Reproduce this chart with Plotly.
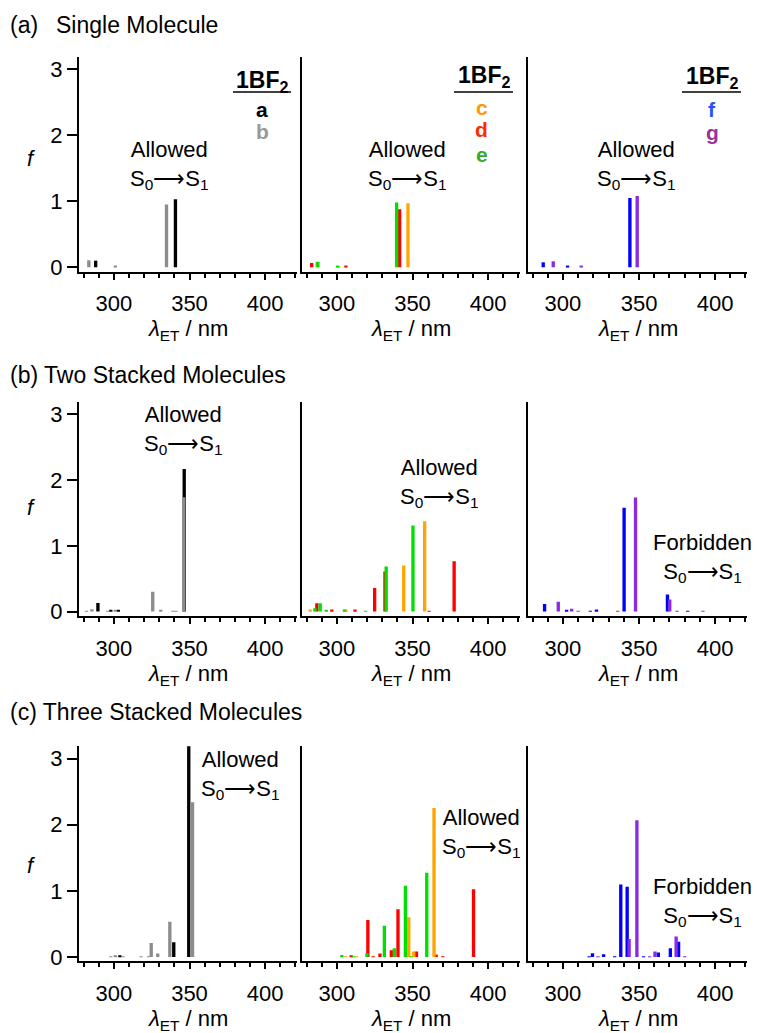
import plotly.graph_objects as go

W, H = 757, 1033

# ---------------- data (lambda_ET in nm, oscillator strength f) ----------------
# (a) single molecule
single_a_nm = [288.0, 340.7]
single_a_f = [0.10, 1.03]
single_b_nm = [283.5, 301.0, 334.8]
single_b_f = [0.105, 0.02, 0.95]
single_d_nm = [283.4, 306.0, 341.5]
single_d_f = [0.065, 0.025, 0.88]
single_c_nm = [287.0, 301.5, 347.0]
single_c_f = [0.085, 0.01, 0.97]
single_e_nm = [287.5, 300.5, 339.5]
single_e_f = [0.08, 0.015, 0.98]
single_f_nm = [287.0, 303.0, 344.0]
single_f_f = [0.075, 0.015, 1.05]
single_g_nm = [293.6, 312.0, 348.8]
single_g_f = [0.09, 0.02, 1.08]

# (b) two stacked molecules
two_a_nm = [289.5, 298.0, 303.0, 346.5]
two_a_f = [0.13, 0.015, 0.02, 2.17]
two_b_nm = [282.0, 285.5, 296.0, 301.0, 325.7, 331.0, 339.0, 341.0, 346.2]
two_b_f = [0.01, 0.035, 0.01, 0.02, 0.30, 0.02, 0.01, 0.01, 1.74]
two_d_nm = [286.8, 296.7, 312.0, 325.0, 331.8, 361.0, 377.5]
two_d_f = [0.125, 0.03, 0.03, 0.36, 0.61, 0.01, 0.765]
two_c_nm = [282.4, 306.0, 344.2, 358.0]
two_c_f = [0.03, 0.03, 0.70, 1.375]
two_e_nm = [285.5, 289.0, 293.0, 305.0, 319.0, 332.6, 350.3]
two_e_f = [0.05, 0.125, 0.02, 0.03, 0.01, 0.685, 1.31]
two_f_nm = [287.9, 302.4, 318.0, 322.0, 340.2, 368.7, 382.0]
two_f_f = [0.115, 0.02, 0.01, 0.03, 1.58, 0.26, 0.01]
two_g_nm = [296.9, 305.7, 310.0, 336.0, 347.7, 370.2, 375.0, 392.0]
two_g_f = [0.15, 0.045, 0.01, 0.01, 1.735, 0.185, 0.01, 0.01]

# (c) three stacked molecules
three_a_nm = [304.0, 339.6, 349.5]
three_a_f = [0.015, 0.22, 3.4]
three_b_nm = [298.0, 301.0, 306.0, 318.0, 323.0, 324.7, 329.0, 337.0, 352.0]
three_b_f = [0.01, 0.015, 0.01, 0.01, 0.01, 0.21, 0.05, 0.53, 2.34]
three_d_nm = [309.5, 320.5, 324.0, 328.5, 336.0, 340.4, 352.6, 365.6, 370.0, 390.3]
three_d_f = [0.025, 0.56, 0.01, 0.05, 0.10, 0.72, 0.08, 0.035, 0.01, 1.025]
three_c_nm = [306.0, 313.0, 347.5, 350.8, 364.2]
three_c_f = [0.01, 0.01, 0.60, 0.08, 2.255]
three_e_nm = [303.3, 311.0, 319.9, 331.4, 338.0, 345.3, 349.0, 359.4]
three_e_f = [0.03, 0.01, 0.055, 0.47, 0.13, 1.075, 0.01, 1.275]
three_f_nm = [317.2, 319.4, 326.7, 334.0, 338.0, 342.2, 353.0, 362.7, 370.6, 376.0]
three_f_f = [0.01, 0.055, 0.04, 0.01, 1.095, 1.06, 0.01, 0.065, 0.13, 0.23]
three_g_nm = [323.0, 343.5, 348.6, 357.0, 360.5, 374.4, 380.0]
three_g_f = [0.01, 0.27, 2.07, 0.01, 0.08, 0.31, 0.01]

x_ticks = [300, 350, 400]
y_ticks = [0, 1, 2, 3]
section_titles = ["(a)\u2002\u00a0Single Molecule", "(b) Two Stacked Molecules",
                  "(c) Three Stacked Molecules"]

COL = dict(a="#000000", b="#8c8c8c", c="#ffa500", d="#ff0000", e="#00e000",
           f="#0000ff", g="#8a2be2")

panels = [
    (0, 0, [("a", single_a_nm, single_a_f), ("b", single_b_nm, single_b_f)]),
    (0, 1, [("d", single_d_nm, single_d_f), ("c", single_c_nm, single_c_f), ("e", single_e_nm, single_e_f)]),
    (0, 2, [("f", single_f_nm, single_f_f), ("g", single_g_nm, single_g_f)]),
    (1, 0, [("a", two_a_nm, two_a_f), ("b", two_b_nm, two_b_f)]),
    (1, 1, [("d", two_d_nm, two_d_f), ("c", two_c_nm, two_c_f), ("e", two_e_nm, two_e_f)]),
    (1, 2, [("f", two_f_nm, two_f_f), ("g", two_g_nm, two_g_f)]),
    (2, 0, [("a", three_a_nm, three_a_f), ("b", three_b_nm, three_b_f)]),
    (2, 1, [("d", three_d_nm, three_d_f), ("c", three_c_nm, three_c_f), ("e", three_e_nm, three_e_f)]),
    (2, 2, [("f", three_f_nm, three_f_f), ("g", three_g_nm, three_g_f)]),
]

col_px = [(79, 297), (302, 520), (528, 747)]
row_px = [(57, 274), (405, 621), (752, 969)]

FONT = "Arial, Liberation Sans, sans-serif"
FS = 22

fig = go.Figure()
layout = {}
for idx, (r, c, series) in enumerate(panels):
    n = idx + 1
    xa = "x" if n == 1 else f"x{n}"
    ya = "y" if n == 1 else f"y{n}"
    for key, nm, fv in series:
        fig.add_trace(go.Bar(x=nm, y=fv, width=2.2, xaxis=xa, yaxis=ya,
                             marker=dict(color=COL[key], line=dict(width=0)),
                             showlegend=False, hoverinfo="x+y"))
    x0, x1 = col_px[c]
    y0, y1 = row_px[r]
    layout["xaxis" if n == 1 else f"xaxis{n}"] = dict(
        domain=[x0 / W, x1 / W], anchor=ya, range=[277, 421],
        tickvals=x_ticks, ticks="outside", ticklen=6, tickwidth=2, tickcolor="black",
        ticklabelstandoff=5,
        minor=dict(tickvals=list(range(280, 421, 10)), ticks="outside", ticklen=4,
                   tickwidth=2, tickcolor="black", showgrid=False),
        showline=True, linewidth=2, linecolor="black", showgrid=False, zeroline=False,
        tickfont=dict(family=FONT, size=FS, color="black"))
    ydict = dict(domain=[1 - y1 / H, 1 - y0 / H], anchor=xa, range=[-0.07, 3.19],
                 showline=True, linewidth=2, linecolor="black", showgrid=False,
                 zeroline=False)
    if c == 0:
        ydict.update(tickvals=y_ticks, ticks="outside", ticklen=10, tickwidth=2,
                     tickcolor="black", tickfont=dict(family=FONT, size=FS, color="black"))
    else:
        ydict.update(showticklabels=False, ticks="")
    layout["yaxis" if n == 1 else f"yaxis{n}"] = ydict

fig.update_layout(**layout)

anns = []
shapes = []


def ann(text, x, y, size=FS, color="black", xanchor="center", yanchor="middle"):
    anns.append(dict(text=text, x=x / W, y=1 - y / H, xref="paper", yref="paper",
                     xanchor=xanchor, yanchor=yanchor, showarrow=False,
                     font=dict(family=FONT, size=size, color=color)))


# section titles
for t, yy in zip(section_titles, [25, 378, 718]):
    ann(t, 8, yy, size=23, xanchor="left")

# y titles & x titles
for r, (y0, y1) in enumerate(row_px):
    ann("<i>f</i>", 31, [160, 511, 872][r], size=FS)
    for c, (x0, x1) in enumerate(col_px):
        ann("<i>λ</i><sub>ET</sub> / nm", (x0 + x1) / 2, y1 + 59, size=FS)

S01 = "S<sub>0</sub>⟶S<sub>1</sub>"
ann("Allowed<br>" + S01, 169, 166)
ann("Allowed<br>" + S01, 407, 166)
ann("Allowed<br>" + S01, 636, 166)
ann("Allowed<br>" + S01, 183, 433)
ann("Allowed<br>" + S01, 439, 487)
ann("Forbidden<br>" + S01, 702, 562)
ann("Allowed<br>" + S01, 241, 781)
ann("Allowed<br>" + S01, 482, 839)
ann("Forbidden<br>" + S01, 702, 909)

# compound keys
ann("<b>1BF<sub>2</sub></b>", 262, 82, size=23)
ann("<b>1BF<sub>2</sub></b>", 484, 77, size=23)
ann("<b>1BF<sub>2</sub></b>", 712, 78, size=23)
for xa0, xa1 in [(233, 291), (454, 513), (682, 741)]:
    shapes.append(dict(type="line", xref="paper", yref="paper", x0=xa0 / W, x1=xa1 / W,
                       y0=1 - 92.7 / H, y1=1 - 92.7 / H, line=dict(color="black", width=1.5)))
ann("<b>a</b>", 262, 110, size=21, color="#000000")
ann("<b>b</b>", 262, 133, size=21, color="#999999")
ann("<b>c</b>", 482, 108, size=21, color="#ff9900")
ann("<b>d</b>", 482, 131, size=21, color="#ff2a00")
ann("<b>e</b>", 482, 156, size=21, color="#33aa33")
ann("<b>f</b>", 712, 110, size=21, color="#2255ff")
ann("<b>g</b>", 712, 134, size=21, color="#993399")

fig.update_layout(annotations=anns, shapes=shapes, width=W, height=H,
                  margin=dict(l=0, r=0, t=0, b=0), barmode="overlay",
                  paper_bgcolor="white", plot_bgcolor="white",
                  font=dict(family=FONT, color="black"))

fig.write_html("out.html", config={"displayModeBar": False},
               post_script="document.body.style.margin='0';document.body.style.padding='0';"
                           "document.documentElement.style.overflow='hidden';")
